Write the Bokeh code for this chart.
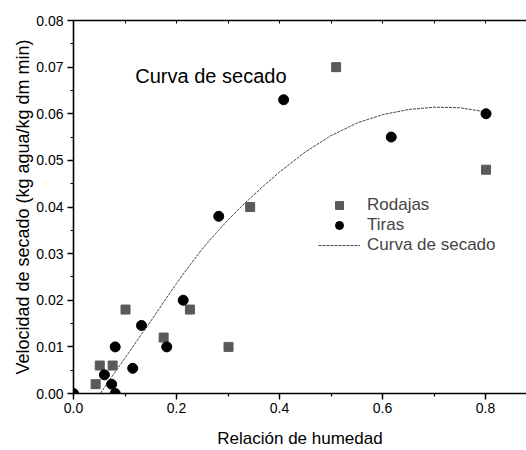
from bokeh.plotting import figure
from bokeh.models import (LinearAxis, SingleIntervalTicker, FixedTicker, NumeralTickFormatter,
                          Label, Legend, LegendItem, Range1d)
from bokeh.embed import file_html
from bokeh.resources import INLINE

# Drying-rate measurements: slices (Rodajas) and strips (Tiras)
rodajas_x = [0.043, 0.051, 0.076, 0.101, 0.175, 0.226, 0.301, 0.343, 0.510, 0.801]
rodajas_y = [0.002, 0.006, 0.006, 0.018, 0.012, 0.018, 0.010, 0.040, 0.070, 0.048]

tiras_x = [0.000, 0.060, 0.074, 0.081, 0.081, 0.115, 0.132, 0.181, 0.213, 0.282, 0.408, 0.617, 0.801]
tiras_y = [0.000, 0.004, 0.002, 0.000, 0.010, 0.0054, 0.0146, 0.010, 0.020, 0.038, 0.063, 0.055, 0.060]

# Fitted drying curve, sampled along its length
curva_x = [0.052, 0.075, 0.10, 0.125, 0.15, 0.175, 0.20, 0.225, 0.25, 0.275, 0.30, 0.325,
           0.35, 0.375, 0.40, 0.45, 0.50, 0.55, 0.60, 0.65, 0.70, 0.75, 0.80]
curva_y = [0.000, 0.0037, 0.0076, 0.0116, 0.0155, 0.0196, 0.0236, 0.0274, 0.0310, 0.0342,
           0.0372, 0.0400, 0.0426, 0.0451, 0.0475, 0.0518, 0.0553, 0.0580, 0.0598, 0.0609,
           0.0614, 0.0613, 0.0604]

FONT = "Liberation Sans"

p = figure(width=526, height=450, output_backend="svg", toolbar_location=None,
           x_range=Range1d(0, 0.8796), y_range=Range1d(0, 0.08),
           min_border_left=73, min_border_top=20, min_border_bottom=56, min_border_right=0,
           x_axis_label="Relación de humedad",
           y_axis_label="Velocidad de secado (kg agua/kg dm min)")
p.outline_line_color = None
p.xgrid.visible = False
p.ygrid.visible = False
p.background_fill_color = "white"
p.border_fill_color = "white"

xa = p.xaxis[0]
xa.ticker = SingleIntervalTicker(interval=0.2, num_minor_ticks=2)
xa.formatter = NumeralTickFormatter(format="0.0")
ya = p.yaxis[0]
ya.ticker = SingleIntervalTicker(interval=0.01, num_minor_ticks=2)
ya.formatter = NumeralTickFormatter(format="0.00")

for ax in (xa, ya):
    ax.axis_line_width = 1.6
    ax.axis_line_color = "black"
    ax.major_tick_line_color = "black"
    ax.minor_tick_line_color = "black"
    ax.major_tick_line_width = 1.4
    ax.minor_tick_line_width = 1.2
    ax.major_tick_in = 0
    ax.minor_tick_in = 0
    ax.major_tick_out = 6
    ax.minor_tick_out = 3
    ax.major_label_text_font = FONT
    ax.major_label_text_font_size = "14px"
    ax.major_label_text_color = "black"
    ax.major_label_standoff = 4
    ax.axis_label_text_font = FONT
    ax.axis_label_text_font_style = "normal"
    ax.axis_label_text_color = "black"

xa.major_label_standoff = 3
xa.axis_label_text_font_size = "17px"
xa.axis_label_standoff = 13
ya.axis_label_text_font_size = "18px"
ya.axis_label_standoff = 0

# Top border drawn as an axis with small inward ticks and no labels
top_ticks = [0.1, 0.2, 0.3, 0.4, 0.5, 0.6, 0.7, 0.8]
top = LinearAxis(ticker=FixedTicker(ticks=top_ticks))
top.axis_line_width = 1.6
top.axis_line_color = "black"
top.major_tick_in = 3
top.major_tick_out = 0
top.major_tick_line_color = "black"
top.minor_tick_line_color = None
top.major_label_text_font_size = "10px"
top.major_label_text_color = None
top.major_label_overrides = {t: " " for t in top_ticks}
top.major_label_standoff = 0
p.add_layout(top, "above")

# Fitted curve and data points
r_curve = p.line(curva_x, curva_y, line_color="#333333", line_width=0.9, line_dash="3 1")
r_rod = p.scatter(rodajas_x, rodajas_y, marker="square", size=9,
                  fill_color="#5a5a5a", line_color="#5a5a5a")
r_tir = p.scatter(tiras_x, tiras_y, marker="circle", size=10,
                  fill_color="black", line_color="black")

p.add_layout(Label(x=0.12, y=0.0682, text="Curva de secado", text_font=FONT,
                   text_font_size="20px", text_baseline="middle", text_color="black"))

legend = Legend(items=[LegendItem(label="Rodajas", renderers=[r_rod]),
                       LegendItem(label="Tiras", renderers=[r_tir]),
                       LegendItem(label="Curva de secado", renderers=[r_curve])],
                location=(245, 138), padding=0, margin=0, spacing=0,
                glyph_width=42, glyph_height=20, label_height=20, label_standoff=7,
                label_text_font=FONT, label_text_font_size="17px",
                border_line_color=None, background_fill_alpha=0)
p.add_layout(legend, "center")

open("out.html", "w").write(file_html(p, INLINE))
